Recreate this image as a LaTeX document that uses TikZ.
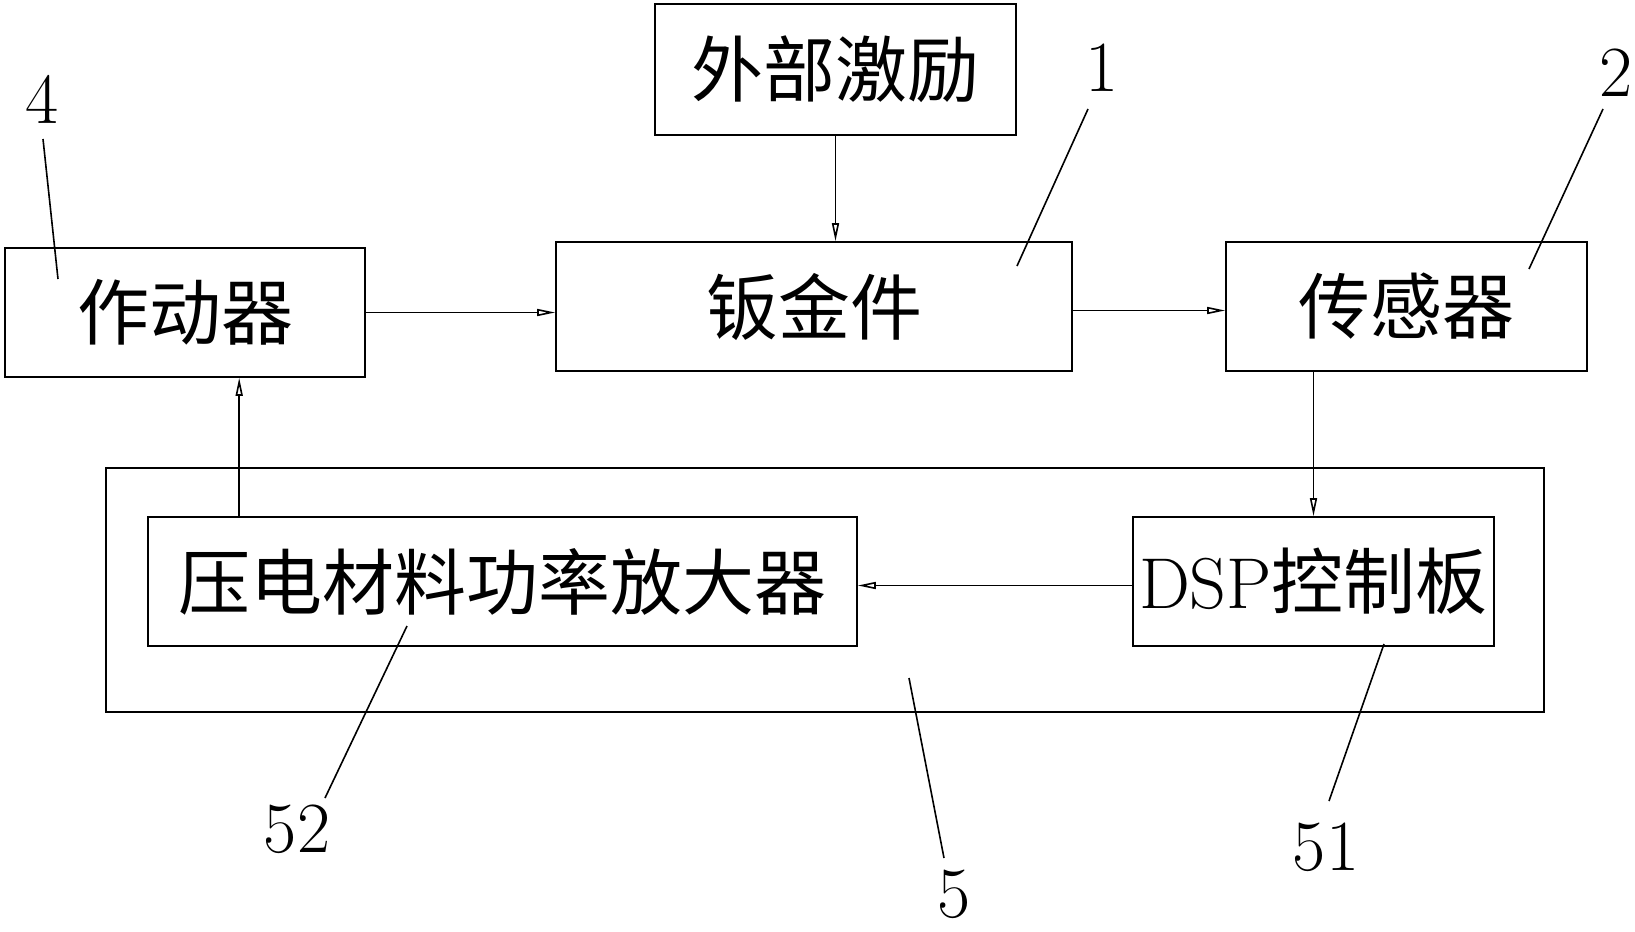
\documentclass[tikz,border=0pt]{standalone}
\usepackage{fontspec}
\usetikzlibrary{arrows.meta,calc}
\newfontfamily\cjk{Noto Sans CJK SC}

\begin{document}
\begin{tikzpicture}[x=0.5pt,y=-0.5pt,
    box/.style={draw,line width=0.8pt,inner sep=0pt,font=\fontsize{36}{40}\selectfont},
    arr/.style={line width=0.8pt,-{Triangle[open,length=9pt,width=3.5pt]}},
    lead/.style={line width=0.8pt},
    num/.style={inner sep=0pt,font=\fontsize{36}{40}\selectfont}]
  \useasboundingbox (0,0) rectangle (1635,932);
  \node[box,minimum width=1438*0.5pt,minimum height=244*0.5pt] (ctrl) at (825,590) {};
  \node[box,minimum width=361*0.5pt,minimum height=131*0.5pt] (ext) at (835.5,69.5) {\cjk 外部激励};
  \node[box,minimum width=516*0.5pt,minimum height=129*0.5pt] (sheet) at (814,306.5) {\cjk 钣金件};
  \node[box,minimum width=360*0.5pt,minimum height=129*0.5pt] (act) at (185,312.5) {\cjk 作动器};
  \node[box,minimum width=361*0.5pt,minimum height=129*0.5pt] (sens) at (1406.5,306.5) {\cjk 传感器};
  \node[box,minimum width=709*0.5pt,minimum height=129*0.5pt] (amp) at (502.5,581.5) {\cjk 压电材料功率放大器};
  \node[box,minimum width=361*0.5pt,minimum height=129*0.5pt] (dsp) at (1313.5,581.5) {DSP{\cjk 控制板}};

  \draw[arr] (ext.south) -- (ext.south |- sheet.north);
  \draw[arr] (act.east) -- (act.east -| sheet.west);
  \draw[arr] ([yshift=-2pt]sheet.east) -- ([yshift=-2pt]sheet.east -| sens.west);
  \draw[arr] (dsp.north |- sens.south) -- (dsp.north);
  \draw[arr] ([yshift=-2pt]dsp.west) -- ([yshift=-2pt]dsp.west -| amp.east);
  \coordinate (ampout) at ([xshift=46pt]amp.north west);
  \draw[arr] (ampout) -- (ampout |- act.south);

  \node[num] (n4) at (42,99) {4};
  \node[num] (n1) at (1102,68) {1};
  \node[num] (n2) at (1616,73) {2};
  \node[num] (n52) at (297,829) {52};
  \node[num] (n51) at (1326,847) {51};
  \node[num] (n5) at (954,894) {5};

  \coordinate (p4) at (58,279);
  \coordinate (p1) at (1017,266);
  \coordinate (p2) at (1529,269);
  \coordinate (p52) at (407,626);
  \coordinate (p51) at (1384,644);
  \coordinate (p5) at (909,678);

  \draw[lead] (43,139) -- (p4);
  \draw[lead] (1088,109) -- (p1);
  \draw[lead] (1603,109) -- (p2);
  \draw[lead] (325,798) -- (p52);
  \draw[lead] (1329,801) -- (p51);
  \draw[lead] (944,858) -- (p5);
\end{tikzpicture}
\end{document}
